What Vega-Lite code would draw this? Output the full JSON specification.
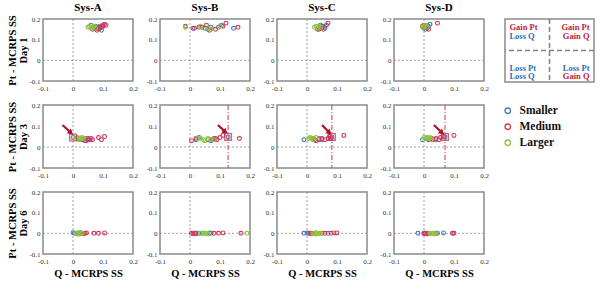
{
"$schema":"https://vega.github.io/schema/vega-lite/v6.json",
"padding":{"left":7,"top":1,"right":0,"bottom":0},
"background":"white",
"datasets":{
"pts":[
{"s":"A","d":1,"g":"Smaller","x":0.06,"y":0.17},{"s":"A","d":1,"g":"Smaller","x":0.07,"y":0.16},{"s":"A","d":1,"g":"Smaller","x":0.08,"y":0.155},{"s":"A","d":1,"g":"Smaller","x":0.085,"y":0.15},{"s":"A","d":1,"g":"Smaller","x":0.09,"y":0.165},{"s":"A","d":1,"g":"Smaller","x":0.095,"y":0.145},{"s":"A","d":1,"g":"Smaller","x":0.1,"y":0.17},{"s":"A","d":1,"g":"Smaller","x":0.075,"y":0.165},
{"s":"A","d":1,"g":"Medium","x":0.065,"y":0.15},{"s":"A","d":1,"g":"Medium","x":0.075,"y":0.155},{"s":"A","d":1,"g":"Medium","x":0.08,"y":0.145},{"s":"A","d":1,"g":"Medium","x":0.085,"y":0.16},{"s":"A","d":1,"g":"Medium","x":0.09,"y":0.155},{"s":"A","d":1,"g":"Medium","x":0.1,"y":0.165},{"s":"A","d":1,"g":"Medium","x":0.105,"y":0.175},{"s":"A","d":1,"g":"Medium","x":0.095,"y":0.16},{"s":"A","d":1,"g":"Medium","x":0.11,"y":0.17},
{"s":"A","d":1,"g":"Larger","x":0.05,"y":0.16},{"s":"A","d":1,"g":"Larger","x":0.055,"y":0.165},{"s":"A","d":1,"g":"Larger","x":0.06,"y":0.155},{"s":"A","d":1,"g":"Larger","x":0.065,"y":0.16},{"s":"A","d":1,"g":"Larger","x":0.07,"y":0.165},{"s":"A","d":1,"g":"Larger","x":0.075,"y":0.155},
{"s":"B","d":1,"g":"Smaller","x":0.015,"y":0.155},{"s":"B","d":1,"g":"Smaller","x":0.05,"y":0.155},{"s":"B","d":1,"g":"Smaller","x":0.07,"y":0.16},{"s":"B","d":1,"g":"Smaller","x":0.095,"y":0.16},{"s":"B","d":1,"g":"Smaller","x":0.105,"y":0.17},{"s":"B","d":1,"g":"Smaller","x":0.145,"y":0.155},{"s":"B","d":1,"g":"Smaller","x":0.06,"y":0.15},
{"s":"B","d":1,"g":"Medium","x":-0.015,"y":0.165},{"s":"B","d":1,"g":"Medium","x":0.01,"y":0.155},{"s":"B","d":1,"g":"Medium","x":0.03,"y":0.16},{"s":"B","d":1,"g":"Medium","x":0.04,"y":0.16},{"s":"B","d":1,"g":"Medium","x":0.055,"y":0.17},{"s":"B","d":1,"g":"Medium","x":0.065,"y":0.145},{"s":"B","d":1,"g":"Medium","x":0.085,"y":0.15},{"s":"B","d":1,"g":"Medium","x":0.11,"y":0.165},{"s":"B","d":1,"g":"Medium","x":0.12,"y":0.18},{"s":"B","d":1,"g":"Medium","x":0.16,"y":0.16},
{"s":"B","d":1,"g":"Larger","x":-0.015,"y":0.16},{"s":"B","d":1,"g":"Larger","x":0.035,"y":0.165},{"s":"B","d":1,"g":"Larger","x":0.06,"y":0.155},{"s":"B","d":1,"g":"Larger","x":0.1,"y":0.165},{"s":"B","d":1,"g":"Larger","x":0.07,"y":0.15},
{"s":"C","d":1,"g":"Smaller","x":0.045,"y":0.17},{"s":"C","d":1,"g":"Smaller","x":0.05,"y":0.16},{"s":"C","d":1,"g":"Smaller","x":0.055,"y":0.165},{"s":"C","d":1,"g":"Smaller","x":0.06,"y":0.155},{"s":"C","d":1,"g":"Smaller","x":0.065,"y":0.17},{"s":"C","d":1,"g":"Smaller","x":0.04,"y":0.15},
{"s":"C","d":1,"g":"Medium","x":0.035,"y":0.15},{"s":"C","d":1,"g":"Medium","x":0.04,"y":0.16},{"s":"C","d":1,"g":"Medium","x":0.045,"y":0.155},{"s":"C","d":1,"g":"Medium","x":0.05,"y":0.165},{"s":"C","d":1,"g":"Medium","x":0.055,"y":0.15},{"s":"C","d":1,"g":"Medium","x":0.07,"y":0.18},
{"s":"C","d":1,"g":"Larger","x":0.025,"y":0.16},{"s":"C","d":1,"g":"Larger","x":0.03,"y":0.165},{"s":"C","d":1,"g":"Larger","x":0.035,"y":0.155},{"s":"C","d":1,"g":"Larger","x":0.04,"y":0.165},{"s":"C","d":1,"g":"Larger","x":0.045,"y":0.16},
{"s":"D","d":1,"g":"Smaller","x":0.0,"y":0.155},{"s":"D","d":1,"g":"Smaller","x":0.01,"y":0.17},{"s":"D","d":1,"g":"Smaller","x":0.015,"y":0.165},{"s":"D","d":1,"g":"Smaller","x":0.02,"y":0.175},{"s":"D","d":1,"g":"Smaller","x":0.005,"y":0.15},
{"s":"D","d":1,"g":"Medium","x":-0.005,"y":0.165},{"s":"D","d":1,"g":"Medium","x":0.0,"y":0.17},{"s":"D","d":1,"g":"Medium","x":0.005,"y":0.16},{"s":"D","d":1,"g":"Medium","x":0.01,"y":0.155},{"s":"D","d":1,"g":"Medium","x":0.015,"y":0.15},{"s":"D","d":1,"g":"Medium","x":0.045,"y":0.18},
{"s":"D","d":1,"g":"Larger","x":-0.005,"y":0.16},{"s":"D","d":1,"g":"Larger","x":0.0,"y":0.165},{"s":"D","d":1,"g":"Larger","x":0.005,"y":0.17},{"s":"D","d":1,"g":"Larger","x":0.01,"y":0.16},
{"s":"A","d":3,"g":"Smaller","x":0.0,"y":0.045},{"s":"A","d":3,"g":"Smaller","x":0.02,"y":0.04},{"s":"A","d":3,"g":"Smaller","x":0.03,"y":0.035},{"s":"A","d":3,"g":"Smaller","x":0.04,"y":0.04},{"s":"A","d":3,"g":"Smaller","x":0.045,"y":0.03},{"s":"A","d":3,"g":"Smaller","x":0.05,"y":0.035},
{"s":"A","d":3,"g":"Medium","x":0.03,"y":0.035},{"s":"A","d":3,"g":"Medium","x":0.04,"y":0.03},{"s":"A","d":3,"g":"Medium","x":0.05,"y":0.04},{"s":"A","d":3,"g":"Medium","x":0.055,"y":0.035},{"s":"A","d":3,"g":"Medium","x":0.06,"y":0.04},{"s":"A","d":3,"g":"Medium","x":0.065,"y":0.035},{"s":"A","d":3,"g":"Medium","x":0.085,"y":0.045},{"s":"A","d":3,"g":"Medium","x":0.095,"y":0.035},{"s":"A","d":3,"g":"Medium","x":0.105,"y":0.05},
{"s":"A","d":3,"g":"Larger","x":0.01,"y":0.04},{"s":"A","d":3,"g":"Larger","x":0.015,"y":0.045},{"s":"A","d":3,"g":"Larger","x":0.02,"y":0.035},{"s":"A","d":3,"g":"Larger","x":0.025,"y":0.04},{"s":"A","d":3,"g":"Larger","x":0.03,"y":0.045},{"s":"A","d":3,"g":"Larger","x":0.035,"y":0.04},
{"s":"B","d":3,"g":"Smaller","x":0.02,"y":0.035},{"s":"B","d":3,"g":"Smaller","x":0.03,"y":0.045},{"s":"B","d":3,"g":"Smaller","x":0.06,"y":0.035},{"s":"B","d":3,"g":"Smaller","x":0.07,"y":0.03},{"s":"B","d":3,"g":"Smaller","x":0.08,"y":0.04},{"s":"B","d":3,"g":"Smaller","x":0.127,"y":0.048},
{"s":"B","d":3,"g":"Medium","x":0.005,"y":0.03},{"s":"B","d":3,"g":"Medium","x":0.02,"y":0.04},{"s":"B","d":3,"g":"Medium","x":0.075,"y":0.035},{"s":"B","d":3,"g":"Medium","x":0.085,"y":0.04},{"s":"B","d":3,"g":"Medium","x":0.09,"y":0.035},{"s":"B","d":3,"g":"Medium","x":0.1,"y":0.045},{"s":"B","d":3,"g":"Medium","x":0.11,"y":0.055},{"s":"B","d":3,"g":"Medium","x":0.165,"y":0.04},
{"s":"B","d":3,"g":"Larger","x":0.025,"y":0.04},{"s":"B","d":3,"g":"Larger","x":0.035,"y":0.04},{"s":"B","d":3,"g":"Larger","x":0.045,"y":0.035},{"s":"B","d":3,"g":"Larger","x":0.05,"y":0.03},{"s":"B","d":3,"g":"Larger","x":0.06,"y":0.04},{"s":"B","d":3,"g":"Larger","x":0.07,"y":0.035},{"s":"B","d":3,"g":"Larger","x":0.08,"y":0.035},
{"s":"C","d":3,"g":"Smaller","x":-0.01,"y":0.035},{"s":"C","d":3,"g":"Smaller","x":0.02,"y":0.04},{"s":"C","d":3,"g":"Smaller","x":0.04,"y":0.04},{"s":"C","d":3,"g":"Smaller","x":0.05,"y":0.035},{"s":"C","d":3,"g":"Smaller","x":0.083,"y":0.048},
{"s":"C","d":3,"g":"Medium","x":0.025,"y":0.035},{"s":"C","d":3,"g":"Medium","x":0.03,"y":0.03},{"s":"C","d":3,"g":"Medium","x":0.04,"y":0.035},{"s":"C","d":3,"g":"Medium","x":0.05,"y":0.04},{"s":"C","d":3,"g":"Medium","x":0.06,"y":0.035},{"s":"C","d":3,"g":"Medium","x":0.07,"y":0.04},{"s":"C","d":3,"g":"Medium","x":0.075,"y":0.05},{"s":"C","d":3,"g":"Medium","x":0.08,"y":0.04},{"s":"C","d":3,"g":"Medium","x":0.123,"y":0.055},
{"s":"C","d":3,"g":"Larger","x":0.005,"y":0.04},{"s":"C","d":3,"g":"Larger","x":0.01,"y":0.045},{"s":"C","d":3,"g":"Larger","x":0.015,"y":0.04},{"s":"C","d":3,"g":"Larger","x":0.02,"y":0.035},{"s":"C","d":3,"g":"Larger","x":0.03,"y":0.045},
{"s":"D","d":3,"g":"Smaller","x":-0.005,"y":0.035},{"s":"D","d":3,"g":"Smaller","x":0.01,"y":0.04},{"s":"D","d":3,"g":"Smaller","x":0.04,"y":0.035},{"s":"D","d":3,"g":"Smaller","x":0.07,"y":0.048},
{"s":"D","d":3,"g":"Medium","x":0.015,"y":0.035},{"s":"D","d":3,"g":"Medium","x":0.025,"y":0.04},{"s":"D","d":3,"g":"Medium","x":0.03,"y":0.035},{"s":"D","d":3,"g":"Medium","x":0.04,"y":0.04},{"s":"D","d":3,"g":"Medium","x":0.05,"y":0.035},{"s":"D","d":3,"g":"Medium","x":0.055,"y":0.045},{"s":"D","d":3,"g":"Medium","x":0.065,"y":0.05},{"s":"D","d":3,"g":"Medium","x":0.1,"y":0.055},
{"s":"D","d":3,"g":"Larger","x":0.0,"y":0.045},{"s":"D","d":3,"g":"Larger","x":0.005,"y":0.04},{"s":"D","d":3,"g":"Larger","x":0.01,"y":0.045},{"s":"D","d":3,"g":"Larger","x":0.015,"y":0.04},{"s":"D","d":3,"g":"Larger","x":0.02,"y":0.045},{"s":"D","d":3,"g":"Larger","x":0.025,"y":0.035},
{"s":"A","d":6,"g":"Smaller","x":0.0,"y":0.003},{"s":"A","d":6,"g":"Smaller","x":0.005,"y":0.0},{"s":"A","d":6,"g":"Smaller","x":0.015,"y":0.002},{"s":"A","d":6,"g":"Smaller","x":0.02,"y":0.0},{"s":"A","d":6,"g":"Smaller","x":0.025,"y":0.003},
{"s":"A","d":6,"g":"Medium","x":0.02,"y":-0.003},{"s":"A","d":6,"g":"Medium","x":0.03,"y":0.0},{"s":"A","d":6,"g":"Medium","x":0.035,"y":-0.002},{"s":"A","d":6,"g":"Medium","x":0.04,"y":0.0},{"s":"A","d":6,"g":"Medium","x":0.045,"y":0.002},{"s":"A","d":6,"g":"Medium","x":0.07,"y":0.0},{"s":"A","d":6,"g":"Medium","x":0.085,"y":0.0},{"s":"A","d":6,"g":"Medium","x":0.105,"y":0.002},
{"s":"A","d":6,"g":"Larger","x":0.01,"y":0.0},{"s":"A","d":6,"g":"Larger","x":0.015,"y":-0.003},{"s":"A","d":6,"g":"Larger","x":0.02,"y":0.002},{"s":"A","d":6,"g":"Larger","x":0.025,"y":-0.002},{"s":"A","d":6,"g":"Larger","x":0.03,"y":0.0},
{"s":"B","d":6,"g":"Smaller","x":0.02,"y":0.002},{"s":"B","d":6,"g":"Smaller","x":0.04,"y":0.0},{"s":"B","d":6,"g":"Smaller","x":0.065,"y":0.002},{"s":"B","d":6,"g":"Smaller","x":0.07,"y":0.0},{"s":"B","d":6,"g":"Smaller","x":0.03,"y":0.0},
{"s":"B","d":6,"g":"Medium","x":0.005,"y":0.0},{"s":"B","d":6,"g":"Medium","x":0.01,"y":-0.002},{"s":"B","d":6,"g":"Medium","x":0.015,"y":0.0},{"s":"B","d":6,"g":"Medium","x":0.02,"y":-0.002},{"s":"B","d":6,"g":"Medium","x":0.08,"y":0.0},{"s":"B","d":6,"g":"Medium","x":0.095,"y":0.0},{"s":"B","d":6,"g":"Medium","x":0.11,"y":0.002},{"s":"B","d":6,"g":"Medium","x":0.17,"y":0.0},
{"s":"B","d":6,"g":"Larger","x":0.035,"y":0.0},{"s":"B","d":6,"g":"Larger","x":0.045,"y":0.002},{"s":"B","d":6,"g":"Larger","x":0.05,"y":-0.002},{"s":"B","d":6,"g":"Larger","x":0.055,"y":0.0},{"s":"B","d":6,"g":"Larger","x":0.06,"y":-0.003},{"s":"B","d":6,"g":"Larger","x":0.19,"y":0.0},
{"s":"C","d":6,"g":"Smaller","x":-0.01,"y":0.0},{"s":"C","d":6,"g":"Smaller","x":0.0,"y":0.002},{"s":"C","d":6,"g":"Smaller","x":0.005,"y":0.0},{"s":"C","d":6,"g":"Smaller","x":0.07,"y":0.0},
{"s":"C","d":6,"g":"Medium","x":0.01,"y":0.0},{"s":"C","d":6,"g":"Medium","x":0.015,"y":-0.002},{"s":"C","d":6,"g":"Medium","x":0.02,"y":0.0},{"s":"C","d":6,"g":"Medium","x":0.03,"y":0.002},{"s":"C","d":6,"g":"Medium","x":0.05,"y":0.0},{"s":"C","d":6,"g":"Medium","x":0.06,"y":0.0},{"s":"C","d":6,"g":"Medium","x":0.08,"y":0.0},{"s":"C","d":6,"g":"Medium","x":0.09,"y":0.002},{"s":"C","d":6,"g":"Medium","x":0.1,"y":0.002},
{"s":"C","d":6,"g":"Larger","x":0.02,"y":-0.002},{"s":"C","d":6,"g":"Larger","x":0.025,"y":0.0},{"s":"C","d":6,"g":"Larger","x":0.03,"y":-0.003},{"s":"C","d":6,"g":"Larger","x":0.035,"y":0.0},{"s":"C","d":6,"g":"Larger","x":0.04,"y":-0.002},{"s":"C","d":6,"g":"Larger","x":0.045,"y":0.0},
{"s":"D","d":6,"g":"Smaller","x":-0.02,"y":0.0},{"s":"D","d":6,"g":"Smaller","x":0.0,"y":0.002},{"s":"D","d":6,"g":"Smaller","x":0.045,"y":0.0},{"s":"D","d":6,"g":"Smaller","x":0.065,"y":0.002},
{"s":"D","d":6,"g":"Medium","x":0.0,"y":-0.002},{"s":"D","d":6,"g":"Medium","x":0.005,"y":0.0},{"s":"D","d":6,"g":"Medium","x":0.01,"y":-0.003},{"s":"D","d":6,"g":"Medium","x":0.015,"y":0.0},{"s":"D","d":6,"g":"Medium","x":0.04,"y":0.0},{"s":"D","d":6,"g":"Medium","x":0.095,"y":0.0},{"s":"D","d":6,"g":"Medium","x":0.1,"y":0.0},
{"s":"D","d":6,"g":"Larger","x":0.02,"y":0.0},{"s":"D","d":6,"g":"Larger","x":0.025,"y":-0.002},{"s":"D","d":6,"g":"Larger","x":0.03,"y":0.0},{"s":"D","d":6,"g":"Larger","x":0.035,"y":-0.003},{"s":"D","d":6,"g":"Larger","x":0.04,"y":0.002}
],
"sq":[{"s":"A","x":0.0,"y":0.045},{"s":"B","x":0.127,"y":0.048},{"s":"C","x":0.083,"y":0.048},{"s":"D","x":0.07,"y":0.048}],
"vl":[{"s":"B","x":0.127},{"s":"C","x":0.083},{"s":"D","x":0.07}],
"arr":[{"s":"A","x":-0.035,"y":0.105,"xh":-0.007,"yh":0.068},{"s":"B","x":0.093,"y":0.105,"xh":0.118,"yh":0.072},{"s":"C","x":0.05,"y":0.105,"xh":0.075,"yh":0.068},{"s":"D","x":0.033,"y":0.105,"xh":0.06,"yh":0.068}],
"quad":[
{"side":"L","t":"Gain Pt","k":"gain","x":0.05,"y":0.87},{"side":"L","t":"Loss Q","k":"loss","x":0.05,"y":0.73},
{"side":"R","t":"Gain Pt","k":"gain","x":0.95,"y":0.87},{"side":"R","t":"Gain Q","k":"gain","x":0.95,"y":0.73},
{"side":"L","t":"Loss Pt","k":"loss","x":0.05,"y":0.23},{"side":"L","t":"Loss Q","k":"loss","x":0.05,"y":0.09},
{"side":"R","t":"Loss Pt","k":"loss","x":0.95,"y":0.23},{"side":"R","t":"Gain Q","k":"gain","x":0.95,"y":0.09}
]
},
"vconcat":[
{"hconcat":[
{"hconcat":[
{"width":90,"height":62,"title":"Sys-A","layer":[
{"data":{"values":[{}]},"mark":{"type":"rule","color":"#8c8c8c","strokeDash":[2,2],"strokeWidth":0.8},"encoding":{"x":{"datum":0,"type":"quantitative"}}},
{"data":{"values":[{}]},"mark":{"type":"rule","color":"#8c8c8c","strokeDash":[2,2],"strokeWidth":0.8},"encoding":{"y":{"datum":0,"type":"quantitative"}}},
{"data":{"name":"pts"},"transform":[{"filter":"datum.s=='A'&&datum.d==1"}],"mark":{"type":"point","filled":false,"size":15,"strokeWidth":1.1,"opacity":1},"encoding":{"x":{"field":"x","type":"quantitative","scale":{"domain":[-0.1,0.2],"nice":false},"axis":{"title":null}},"y":{"field":"y","type":"quantitative","scale":{"domain":[-0.1,0.2],"nice":false},"axis":{"title":["Pt - MCRPS SS","Day 1"]}},"color":{"field":"g","type":"nominal","scale":{"domain":["Smaller","Medium","Larger"],"range":["#4a7ebb","#d03a5a","#8cc63f"]},"legend":null}}}
]},
{"width":90,"height":62,"title":"Sys-B","layer":[
{"data":{"values":[{}]},"mark":{"type":"rule","color":"#8c8c8c","strokeDash":[2,2],"strokeWidth":0.8},"encoding":{"x":{"datum":0,"type":"quantitative"}}},
{"data":{"values":[{}]},"mark":{"type":"rule","color":"#8c8c8c","strokeDash":[2,2],"strokeWidth":0.8},"encoding":{"y":{"datum":0,"type":"quantitative"}}},
{"data":{"name":"pts"},"transform":[{"filter":"datum.s=='B'&&datum.d==1"}],"mark":{"type":"point","filled":false,"size":15,"strokeWidth":1.1,"opacity":1},"encoding":{"x":{"field":"x","type":"quantitative","scale":{"domain":[-0.1,0.2],"nice":false},"axis":{"title":null}},"y":{"field":"y","type":"quantitative","scale":{"domain":[-0.1,0.2],"nice":false},"axis":{"title":null}},"color":{"field":"g","type":"nominal","scale":{"domain":["Smaller","Medium","Larger"],"range":["#4a7ebb","#d03a5a","#8cc63f"]},"legend":null}}}
]},
{"width":90,"height":62,"title":"Sys-C","layer":[
{"data":{"values":[{}]},"mark":{"type":"rule","color":"#8c8c8c","strokeDash":[2,2],"strokeWidth":0.8},"encoding":{"x":{"datum":0,"type":"quantitative"}}},
{"data":{"values":[{}]},"mark":{"type":"rule","color":"#8c8c8c","strokeDash":[2,2],"strokeWidth":0.8},"encoding":{"y":{"datum":0,"type":"quantitative"}}},
{"data":{"name":"pts"},"transform":[{"filter":"datum.s=='C'&&datum.d==1"}],"mark":{"type":"point","filled":false,"size":15,"strokeWidth":1.1,"opacity":1},"encoding":{"x":{"field":"x","type":"quantitative","scale":{"domain":[-0.1,0.2],"nice":false},"axis":{"title":null}},"y":{"field":"y","type":"quantitative","scale":{"domain":[-0.1,0.2],"nice":false},"axis":{"title":null}},"color":{"field":"g","type":"nominal","scale":{"domain":["Smaller","Medium","Larger"],"range":["#4a7ebb","#d03a5a","#8cc63f"]},"legend":null}}}
]},
{"width":90,"height":62,"title":"Sys-D","layer":[
{"data":{"values":[{}]},"mark":{"type":"rule","color":"#8c8c8c","strokeDash":[2,2],"strokeWidth":0.8},"encoding":{"x":{"datum":0,"type":"quantitative"}}},
{"data":{"values":[{}]},"mark":{"type":"rule","color":"#8c8c8c","strokeDash":[2,2],"strokeWidth":0.8},"encoding":{"y":{"datum":0,"type":"quantitative"}}},
{"data":{"name":"pts"},"transform":[{"filter":"datum.s=='D'&&datum.d==1"}],"mark":{"type":"point","filled":false,"size":15,"strokeWidth":1.1,"opacity":1},"encoding":{"x":{"field":"x","type":"quantitative","scale":{"domain":[-0.1,0.2],"nice":false},"axis":{"title":null}},"y":{"field":"y","type":"quantitative","scale":{"domain":[-0.1,0.2],"nice":false},"axis":{"title":null}},"color":{"field":"g","type":"nominal","scale":{"domain":["Smaller","Medium","Larger"],"range":["#4a7ebb","#d03a5a","#8cc63f"]},"legend":null}}}
]}
],"spacing":6,"resolve":{"scale":{"color":"independent","x":"independent","y":"independent"}}},
{"width":89,"height":63,"title":" ","layer":[
{"data":{"values":[{}]},"mark":{"type":"rule","color":"#808080","strokeDash":[5,3],"strokeWidth":1.5},"encoding":{"x":{"datum":0.5,"type":"quantitative","scale":{"domain":[0,1],"nice":false},"axis":null}}},
{"data":{"values":[{}]},"mark":{"type":"rule","color":"#808080","strokeDash":[5,3],"strokeWidth":1.5},"encoding":{"y":{"datum":0.5,"type":"quantitative","scale":{"domain":[0,1],"nice":false},"axis":null}}},
{"data":{"name":"quad"},"transform":[{"filter":"datum.side=='L'"}],"mark":{"type":"text","align":"left","baseline":"middle","font":"Liberation Serif","fontSize":8.5,"fontWeight":"bold"},"encoding":{"x":{"field":"x","type":"quantitative","scale":{"domain":[0,1],"nice":false},"axis":null},"y":{"field":"y","type":"quantitative","scale":{"domain":[0,1],"nice":false},"axis":null},"text":{"field":"t"},"color":{"field":"k","type":"nominal","scale":{"domain":["gain","loss"],"range":["#c8203c","#2f6db5"]},"legend":null}}},
{"data":{"name":"quad"},"transform":[{"filter":"datum.side=='R'"}],"mark":{"type":"text","align":"right","baseline":"middle","font":"Liberation Serif","fontSize":8.5,"fontWeight":"bold"},"encoding":{"x":{"field":"x","type":"quantitative","scale":{"domain":[0,1],"nice":false},"axis":null},"y":{"field":"y","type":"quantitative","scale":{"domain":[0,1],"nice":false},"axis":null},"text":{"field":"t"},"color":{"field":"k","type":"nominal","scale":{"domain":["gain","loss"],"range":["#c8203c","#2f6db5"]},"legend":null}}}
]}
],"spacing":13,"resolve":{"scale":{"color":"independent","x":"independent","y":"independent"}}},
{"hconcat":[
{"width":90,"height":63,"layer":[
{"data":{"values":[{}]},"mark":{"type":"rule","color":"#8c8c8c","strokeDash":[2,2],"strokeWidth":0.8},"encoding":{"x":{"datum":0,"type":"quantitative"}}},
{"data":{"values":[{}]},"mark":{"type":"rule","color":"#8c8c8c","strokeDash":[2,2],"strokeWidth":0.8},"encoding":{"y":{"datum":0,"type":"quantitative"}}},
{"data":{"name":"pts"},"transform":[{"filter":"datum.s=='A'&&datum.d==3"}],"mark":{"type":"point","filled":false,"size":15,"strokeWidth":1.1,"opacity":1},"encoding":{"x":{"field":"x","type":"quantitative","scale":{"domain":[-0.1,0.2],"nice":false},"axis":{"title":null}},"y":{"field":"y","type":"quantitative","scale":{"domain":[-0.1,0.2],"nice":false},"axis":{"title":["Pt - MCRPS SS","Day 3"]}},"color":{"field":"g","type":"nominal","scale":{"domain":["Smaller","Medium","Larger"],"range":["#4a7ebb","#d03a5a","#8cc63f"]},"legend":null}}},
{"data":{"name":"sq"},"transform":[{"filter":"datum.s=='A'"}],"mark":{"type":"square","filled":false,"size":45,"color":"#c8203c","strokeWidth":1.3},"encoding":{"x":{"field":"x","type":"quantitative"},"y":{"field":"y","type":"quantitative"}}},
{"data":{"name":"arr"},"transform":[{"filter":"datum.s=='A'"}],"mark":{"type":"rule","color":"#b0102a","strokeWidth":2.2},"encoding":{"x":{"field":"x","type":"quantitative"},"y":{"field":"y","type":"quantitative"},"x2":{"field":"xh"},"y2":{"field":"yh"}}},
{"data":{"name":"arr"},"transform":[{"filter":"datum.s=='A'"}],"mark":{"type":"point","shape":"triangle-up","angle":132,"filled":true,"size":40,"color":"#b0102a","opacity":1},"encoding":{"x":{"field":"xh","type":"quantitative"},"y":{"field":"yh","type":"quantitative"}}}
]},
{"width":90,"height":63,"layer":[
{"data":{"values":[{}]},"mark":{"type":"rule","color":"#8c8c8c","strokeDash":[2,2],"strokeWidth":0.8},"encoding":{"x":{"datum":0,"type":"quantitative"}}},
{"data":{"values":[{}]},"mark":{"type":"rule","color":"#8c8c8c","strokeDash":[2,2],"strokeWidth":0.8},"encoding":{"y":{"datum":0,"type":"quantitative"}}},
{"data":{"name":"vl"},"transform":[{"filter":"datum.s=='B'"}],"mark":{"type":"rule","color":"#d03a5a","strokeDash":[5,2,1,2],"strokeWidth":1},"encoding":{"x":{"field":"x","type":"quantitative"}}},
{"data":{"name":"pts"},"transform":[{"filter":"datum.s=='B'&&datum.d==3"}],"mark":{"type":"point","filled":false,"size":15,"strokeWidth":1.1,"opacity":1},"encoding":{"x":{"field":"x","type":"quantitative","scale":{"domain":[-0.1,0.2],"nice":false},"axis":{"title":null}},"y":{"field":"y","type":"quantitative","scale":{"domain":[-0.1,0.2],"nice":false},"axis":{"title":null}},"color":{"field":"g","type":"nominal","scale":{"domain":["Smaller","Medium","Larger"],"range":["#4a7ebb","#d03a5a","#8cc63f"]},"legend":null}}},
{"data":{"name":"sq"},"transform":[{"filter":"datum.s=='B'"}],"mark":{"type":"square","filled":false,"size":45,"color":"#c8203c","strokeWidth":1.3},"encoding":{"x":{"field":"x","type":"quantitative"},"y":{"field":"y","type":"quantitative"}}},
{"data":{"name":"arr"},"transform":[{"filter":"datum.s=='B'"}],"mark":{"type":"rule","color":"#b0102a","strokeWidth":2.2},"encoding":{"x":{"field":"x","type":"quantitative"},"y":{"field":"y","type":"quantitative"},"x2":{"field":"xh"},"y2":{"field":"yh"}}},
{"data":{"name":"arr"},"transform":[{"filter":"datum.s=='B'"}],"mark":{"type":"point","shape":"triangle-up","angle":132,"filled":true,"size":40,"color":"#b0102a","opacity":1},"encoding":{"x":{"field":"xh","type":"quantitative"},"y":{"field":"yh","type":"quantitative"}}}
]},
{"width":90,"height":63,"layer":[
{"data":{"values":[{}]},"mark":{"type":"rule","color":"#8c8c8c","strokeDash":[2,2],"strokeWidth":0.8},"encoding":{"x":{"datum":0,"type":"quantitative"}}},
{"data":{"values":[{}]},"mark":{"type":"rule","color":"#8c8c8c","strokeDash":[2,2],"strokeWidth":0.8},"encoding":{"y":{"datum":0,"type":"quantitative"}}},
{"data":{"name":"vl"},"transform":[{"filter":"datum.s=='C'"}],"mark":{"type":"rule","color":"#d03a5a","strokeDash":[5,2,1,2],"strokeWidth":1},"encoding":{"x":{"field":"x","type":"quantitative"}}},
{"data":{"name":"pts"},"transform":[{"filter":"datum.s=='C'&&datum.d==3"}],"mark":{"type":"point","filled":false,"size":15,"strokeWidth":1.1,"opacity":1},"encoding":{"x":{"field":"x","type":"quantitative","scale":{"domain":[-0.1,0.2],"nice":false},"axis":{"title":null}},"y":{"field":"y","type":"quantitative","scale":{"domain":[-0.1,0.2],"nice":false},"axis":{"title":null}},"color":{"field":"g","type":"nominal","scale":{"domain":["Smaller","Medium","Larger"],"range":["#4a7ebb","#d03a5a","#8cc63f"]},"legend":null}}},
{"data":{"name":"sq"},"transform":[{"filter":"datum.s=='C'"}],"mark":{"type":"square","filled":false,"size":45,"color":"#c8203c","strokeWidth":1.3},"encoding":{"x":{"field":"x","type":"quantitative"},"y":{"field":"y","type":"quantitative"}}},
{"data":{"name":"arr"},"transform":[{"filter":"datum.s=='C'"}],"mark":{"type":"rule","color":"#b0102a","strokeWidth":2.2},"encoding":{"x":{"field":"x","type":"quantitative"},"y":{"field":"y","type":"quantitative"},"x2":{"field":"xh"},"y2":{"field":"yh"}}},
{"data":{"name":"arr"},"transform":[{"filter":"datum.s=='C'"}],"mark":{"type":"point","shape":"triangle-up","angle":132,"filled":true,"size":40,"color":"#b0102a","opacity":1},"encoding":{"x":{"field":"xh","type":"quantitative"},"y":{"field":"yh","type":"quantitative"}}}
]},
{"width":90,"height":63,"layer":[
{"data":{"values":[{}]},"mark":{"type":"rule","color":"#8c8c8c","strokeDash":[2,2],"strokeWidth":0.8},"encoding":{"x":{"datum":0,"type":"quantitative"}}},
{"data":{"values":[{}]},"mark":{"type":"rule","color":"#8c8c8c","strokeDash":[2,2],"strokeWidth":0.8},"encoding":{"y":{"datum":0,"type":"quantitative"}}},
{"data":{"name":"vl"},"transform":[{"filter":"datum.s=='D'"}],"mark":{"type":"rule","color":"#d03a5a","strokeDash":[5,2,1,2],"strokeWidth":1},"encoding":{"x":{"field":"x","type":"quantitative"}}},
{"data":{"name":"pts"},"transform":[{"filter":"datum.s=='D'&&datum.d==3"}],"mark":{"type":"point","filled":false,"size":15,"strokeWidth":1.1,"opacity":1},"encoding":{"x":{"field":"x","type":"quantitative","scale":{"domain":[-0.1,0.2],"nice":false},"axis":{"title":null}},"y":{"field":"y","type":"quantitative","scale":{"domain":[-0.1,0.2],"nice":false},"axis":{"title":null}},"color":{"field":"g","type":"nominal","scale":{"domain":["Smaller","Medium","Larger"],"range":["#4a7ebb","#d03a5a","#8cc63f"]},"legend":{"orient":"right","title":null,"offset":18,"labelFont":"Liberation Serif","labelFontSize":11.5,"labelFontWeight":"bold","labelColor":"#111","symbolSize":30,"symbolStrokeWidth":1.3,"rowPadding":3,"labelOffset":6}}}},
{"data":{"name":"sq"},"transform":[{"filter":"datum.s=='D'"}],"mark":{"type":"square","filled":false,"size":45,"color":"#c8203c","strokeWidth":1.3},"encoding":{"x":{"field":"x","type":"quantitative"},"y":{"field":"y","type":"quantitative"}}},
{"data":{"name":"arr"},"transform":[{"filter":"datum.s=='D'"}],"mark":{"type":"rule","color":"#b0102a","strokeWidth":2.2},"encoding":{"x":{"field":"x","type":"quantitative"},"y":{"field":"y","type":"quantitative"},"x2":{"field":"xh"},"y2":{"field":"yh"}}},
{"data":{"name":"arr"},"transform":[{"filter":"datum.s=='D'"}],"mark":{"type":"point","shape":"triangle-up","angle":132,"filled":true,"size":40,"color":"#b0102a","opacity":1},"encoding":{"x":{"field":"xh","type":"quantitative"},"y":{"field":"yh","type":"quantitative"}}}
]}
],"spacing":6,"resolve":{"scale":{"color":"independent","x":"independent","y":"independent"}}},
{"hconcat":[
{"width":90,"height":62,"layer":[
{"data":{"values":[{}]},"mark":{"type":"rule","color":"#8c8c8c","strokeDash":[2,2],"strokeWidth":0.8},"encoding":{"x":{"datum":0,"type":"quantitative"}}},
{"data":{"values":[{}]},"mark":{"type":"rule","color":"#8c8c8c","strokeDash":[2,2],"strokeWidth":0.8},"encoding":{"y":{"datum":0,"type":"quantitative"}}},
{"data":{"name":"pts"},"transform":[{"filter":"datum.s=='A'&&datum.d==6"}],"mark":{"type":"point","filled":false,"size":15,"strokeWidth":1.1,"opacity":1},"encoding":{"x":{"field":"x","type":"quantitative","scale":{"domain":[-0.1,0.2],"nice":false},"axis":{"title":"Q - MCRPS SS"}},"y":{"field":"y","type":"quantitative","scale":{"domain":[-0.1,0.2],"nice":false},"axis":{"title":["Pt - MCRPS SS","Day 6"]}},"color":{"field":"g","type":"nominal","scale":{"domain":["Smaller","Medium","Larger"],"range":["#4a7ebb","#d03a5a","#8cc63f"]},"legend":null}}}
]},
{"width":90,"height":62,"layer":[
{"data":{"values":[{}]},"mark":{"type":"rule","color":"#8c8c8c","strokeDash":[2,2],"strokeWidth":0.8},"encoding":{"x":{"datum":0,"type":"quantitative"}}},
{"data":{"values":[{}]},"mark":{"type":"rule","color":"#8c8c8c","strokeDash":[2,2],"strokeWidth":0.8},"encoding":{"y":{"datum":0,"type":"quantitative"}}},
{"data":{"name":"pts"},"transform":[{"filter":"datum.s=='B'&&datum.d==6"}],"mark":{"type":"point","filled":false,"size":15,"strokeWidth":1.1,"opacity":1},"encoding":{"x":{"field":"x","type":"quantitative","scale":{"domain":[-0.1,0.2],"nice":false},"axis":{"title":"Q - MCRPS SS"}},"y":{"field":"y","type":"quantitative","scale":{"domain":[-0.1,0.2],"nice":false},"axis":{"title":null}},"color":{"field":"g","type":"nominal","scale":{"domain":["Smaller","Medium","Larger"],"range":["#4a7ebb","#d03a5a","#8cc63f"]},"legend":null}}}
]},
{"width":90,"height":62,"layer":[
{"data":{"values":[{}]},"mark":{"type":"rule","color":"#8c8c8c","strokeDash":[2,2],"strokeWidth":0.8},"encoding":{"x":{"datum":0,"type":"quantitative"}}},
{"data":{"values":[{}]},"mark":{"type":"rule","color":"#8c8c8c","strokeDash":[2,2],"strokeWidth":0.8},"encoding":{"y":{"datum":0,"type":"quantitative"}}},
{"data":{"name":"pts"},"transform":[{"filter":"datum.s=='C'&&datum.d==6"}],"mark":{"type":"point","filled":false,"size":15,"strokeWidth":1.1,"opacity":1},"encoding":{"x":{"field":"x","type":"quantitative","scale":{"domain":[-0.1,0.2],"nice":false},"axis":{"title":"Q - MCRPS SS"}},"y":{"field":"y","type":"quantitative","scale":{"domain":[-0.1,0.2],"nice":false},"axis":{"title":null}},"color":{"field":"g","type":"nominal","scale":{"domain":["Smaller","Medium","Larger"],"range":["#4a7ebb","#d03a5a","#8cc63f"]},"legend":null}}}
]},
{"width":90,"height":62,"layer":[
{"data":{"values":[{}]},"mark":{"type":"rule","color":"#8c8c8c","strokeDash":[2,2],"strokeWidth":0.8},"encoding":{"x":{"datum":0,"type":"quantitative"}}},
{"data":{"values":[{}]},"mark":{"type":"rule","color":"#8c8c8c","strokeDash":[2,2],"strokeWidth":0.8},"encoding":{"y":{"datum":0,"type":"quantitative"}}},
{"data":{"name":"pts"},"transform":[{"filter":"datum.s=='D'&&datum.d==6"}],"mark":{"type":"point","filled":false,"size":15,"strokeWidth":1.1,"opacity":1},"encoding":{"x":{"field":"x","type":"quantitative","scale":{"domain":[-0.1,0.2],"nice":false},"axis":{"title":"Q - MCRPS SS"}},"y":{"field":"y","type":"quantitative","scale":{"domain":[-0.1,0.2],"nice":false},"axis":{"title":null}},"color":{"field":"g","type":"nominal","scale":{"domain":["Smaller","Medium","Larger"],"range":["#4a7ebb","#d03a5a","#8cc63f"]},"legend":null}}}
]}
],"spacing":6,"resolve":{"scale":{"color":"independent","x":"independent","y":"independent"}}}
],
"spacing":8,
"resolve":{"scale":{"color":"independent","x":"independent","y":"independent"}},
"config":{
"view":{"stroke":"#8a8a8a","strokeWidth":1.5},
"axis":{"grid":false,"domain":false,"ticks":false,"labelFont":"Liberation Serif","labelFontSize":7,"labelColor":"#333","labelPadding":3,"labelFlush":false,"labelOverlap":false,"tickCount":4,"labelExpr":"toString(datum.value)","titleFont":"Liberation Serif","titleFontSize":10.5,"titleFontWeight":"bold","titleColor":"#000","titlePadding":3,"titleLineHeight":11},
"axisX":{"titlePadding":4},
"axisY":{"titlePadding":0},
"title":{"font":"Liberation Serif","fontSize":11,"fontWeight":"bold","color":"#000","offset":2}
}
}
